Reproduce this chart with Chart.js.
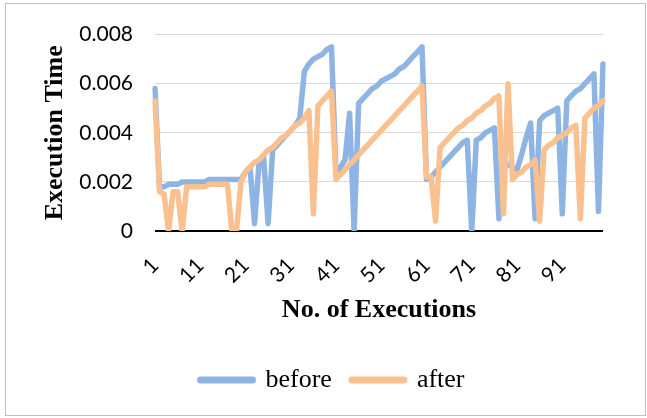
<!DOCTYPE html>
<html>
<head>
<meta charset="utf-8">
<script src="https://cdn.jsdelivr.net/npm/chart.js@4/dist/chart.umd.min.js"></script>
<style>
  html, body { margin: 0; padding: 0; background: #fff; }
  #wrap { position: relative; width: 647px; height: 418px; }
  #frame { position: absolute; left: 5px; top: 3px; width: 639px; height: 411px; border: 1px solid #bfbfbf; pointer-events: none; }
  canvas { position: absolute; left: 0; top: 0; }
</style>
</head>
<body>
<div id="wrap">
  <canvas id="chart" width="647" height="418"></canvas>
  <div id="frame"></div>
</div>
<script>
// x categories: execution number 1..100
const executions = Array.from({ length: 100 }, (_, i) => i + 1);

// execution time before the change
const before = [
  0.0058, 0.0018, 0.0018, 0.0019, 0.0019, 0.0019, 0.0020, 0.0020, 0.0020, 0.0020,
  0.0020, 0.0020, 0.0021, 0.0021, 0.0021, 0.0021, 0.0021, 0.0021, 0.0021, 0.0021,
  0.0024, 0.0026, 0.0003, 0.0028, 0.0030, 0.0003, 0.0033, 0.0035, 0.0037, 0.0039,
  0.0041, 0.0043, 0.0046, 0.0065, 0.0068, 0.0070, 0.0071, 0.0072, 0.0074, 0.0075,
  0.0023, 0.0026, 0.0029, 0.0048, 0.0000, 0.0052, 0.0054, 0.0056, 0.0058, 0.0059,
  0.0061, 0.0062, 0.0063, 0.0064, 0.0066, 0.0067, 0.0069, 0.0071, 0.0073, 0.0075,
  0.0021, 0.0022, 0.0024, 0.0026, 0.0028, 0.0030, 0.0032, 0.0034, 0.0036, 0.0037,
  0.0000, 0.0037, 0.0038, 0.0040, 0.0041, 0.0042, 0.0005, 0.0028, 0.0027, 0.0026,
  0.0025, 0.0031, 0.0038, 0.0044, 0.0005, 0.0045, 0.0047, 0.0048, 0.0049, 0.0050,
  0.0007, 0.0053, 0.0055, 0.0057, 0.0058, 0.0060, 0.0062, 0.0064, 0.0008, 0.0068
];

// execution time after the change
const after = [
  0.0053, 0.0016, 0.0015, 0.0000, 0.0016, 0.0016, 0.0000, 0.0018, 0.0018, 0.0018,
  0.0018, 0.0018, 0.0019, 0.0019, 0.0019, 0.0019, 0.0019, 0.0000, 0.0000, 0.0020,
  0.0024, 0.0026, 0.0028, 0.0029, 0.0031, 0.0033, 0.0034, 0.0036, 0.0038, 0.0039,
  0.0041, 0.0043, 0.0044, 0.0046, 0.0049, 0.0007, 0.0051, 0.0053, 0.0055, 0.0057,
  0.0021, 0.0023, 0.0025, 0.0027, 0.0029, 0.0031, 0.0033, 0.0035, 0.0037, 0.0039,
  0.0041, 0.0043, 0.0045, 0.0047, 0.0049, 0.0051, 0.0053, 0.0055, 0.0057, 0.0059,
  0.0022, 0.0022, 0.0004, 0.0034, 0.0036, 0.0038, 0.0040, 0.0042, 0.0043, 0.0045,
  0.0046, 0.0048, 0.0049, 0.0051, 0.0052, 0.0054, 0.0055, 0.0007, 0.0060, 0.0021,
  0.0023, 0.0024, 0.0026, 0.0027, 0.0029, 0.0004, 0.0033, 0.0035, 0.0036, 0.0038,
  0.0039, 0.0040, 0.0042, 0.0043, 0.0005, 0.0046, 0.0048, 0.0050, 0.0051, 0.0053
];

// y axis tick labels
const yTickLabels = ["0", "0.002", "0.004", "0.006", "0.008"];

const BLUE = "#8eb4e3";
const ORANGE = "#fac090";

const ctx = document.getElementById("chart").getContext("2d");

new Chart(ctx, {
  type: "line",
  data: {
    labels: executions,
    datasets: [
      {
        label: "before",
        data: before,
        borderColor: BLUE,
        backgroundColor: BLUE,
        borderWidth: 5.5,
        pointRadius: 0,
        tension: 0,
        borderCapStyle: "round",
        borderJoinStyle: "round",
        order: 1
      },
      {
        label: "after",
        data: after,
        borderColor: ORANGE,
        backgroundColor: ORANGE,
        borderWidth: 5.5,
        pointRadius: 0,
        tension: 0,
        borderCapStyle: "round",
        borderJoinStyle: "round",
        order: 0
      }
    ]
  },
  options: {
    responsive: false,
    animation: false,
    layout: {
      padding: { left: 62, right: 44, top: 32, bottom: 15 }
    },
    plugins: {
      tooltip: { enabled: false },
      legend: {
        position: "bottom",
        labels: {
          usePointStyle: true,
          pointStyle: "line",
          pointStyleWidth: 52,
          padding: 20,
          color: "#000",
          font: { family: "Liberation Serif", size: 26 },
          sort: (a, b) => a.datasetIndex - b.datasetIndex,
          generateLabels(chart) {
            const items = Chart.defaults.plugins.legend.labels.generateLabels(chart);
            items.forEach(item => {
              item.lineWidth = 7;
              item.lineCap = "round";
            });
            return items;
          }
        }
      }
    },
    scales: {
      x: {
        grid: { display: false, drawTicks: false },
        border: { display: false },
        ticks: {
          autoSkip: false,
          maxRotation: 45,
          minRotation: 45,
          padding: 22,
          color: "#000",
          font: { family: "Lato", size: 21 },
          callback: (value, index) => (index % 10 === 0 ? String(executions[index]) : "")
        },
        title: {
          display: true,
          text: "No. of Executions",
          color: "#000",
          font: { family: "Liberation Serif", size: 26, weight: "bold" },
          padding: { top: 0, bottom: 21 }
        },
        afterFit: scale => { scale.height = 116; }
      },
      y: {
        min: 0,
        max: 0.008,
        grid: {
          drawTicks: false,
          color: c => (c.tick && c.tick.value === 0 ? "#000" : "#d9d9d9"),
          lineWidth: c => (c.tick && c.tick.value === 0 ? 2 : 1)
        },
        border: { display: false },
        ticks: {
          stepSize: 0.002,
          padding: 22,
          color: "#000",
          font: { family: "Lato", size: 21 },
          callback: (value, index) => yTickLabels[index]
        },
        title: {
          display: true,
          text: "Execution Time",
          color: "#000",
          font: { family: "Liberation Serif", size: 26, weight: "bold" },
          padding: { top: -22, bottom: 0 }
        },
        afterFit: scale => { scale.width = 93; }
      }
    }
  }
});
</script>
</body>
</html>
